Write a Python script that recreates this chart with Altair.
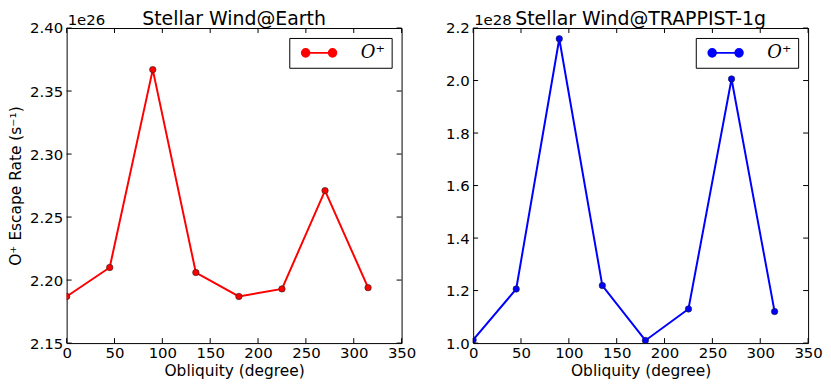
import altair as alt
import pandas as pd

# ---- data ----
obliquity = [0, 45, 90, 135, 180, 225, 270, 315]
earth_rate = [2.187, 2.210, 2.367, 2.206, 2.187, 2.193, 2.271, 2.194]      # x 1e26 s^-1
trappist_rate = [1.012, 1.206, 2.159, 1.219, 1.010, 1.130, 2.006, 1.120]   # x 1e28 s^-1
x_ticks = [0, 50, 100, 150, 200, 250, 300, 350]
earth_ticks = [2.15, 2.20, 2.25, 2.30, 2.35, 2.40]
trappist_ticks = [1.0, 1.2, 1.4, 1.6, 1.8, 2.0, 2.2]
series_name = "O\u207a"

W, H = 337, 317
FONT = "DejaVu Sans"

# legend symbol: a line with a dot at each end
E, R = 2.5, 0.7
SYMBOL = (
    f"M{-E},0L{E},0"
    f"M{-E+R},0A{R},{R},0,1,1,{-E-R},0A{R},{R},0,1,1,{-E+R},0"
    f"M{E+R},0A{R},{R},0,1,1,{E-R},0A{R},{R},0,1,1,{E+R},0"
)


def panel(values, color, yticks, fmt, title, exp_label, ytitle):
    df = pd.DataFrame({"obliquity": obliquity, "rate": values, "series": series_name})
    xs = alt.Scale(domain=[x_ticks[0], x_ticks[-1]], nice=False, zero=False)
    ys = alt.Scale(domain=[yticks[0], yticks[-1]], nice=False, zero=False)
    xax = alt.Axis(values=x_ticks, title="Obliquity (degree)", format="d")
    yax = alt.Axis(values=yticks, title=ytitle, format=fmt)

    base = alt.Chart(df)
    line = base.mark_line(color=color, strokeWidth=2, clip=True).encode(
        x=alt.X("obliquity:Q", scale=xs, axis=xax),
        y=alt.Y("rate:Q", scale=ys, axis=yax),
    )
    pts = base.mark_point(
        filled=True, size=42, stroke="#222222", strokeWidth=0.6, opacity=1, clip=True
    ).encode(
        x=alt.X("obliquity:Q", scale=xs, axis=xax),
        y=alt.Y("rate:Q", scale=ys, axis=yax),
        color=alt.Color(
            "series:N",
            scale=alt.Scale(range=[color]),
            legend=alt.Legend(
                title=None,
                orient="top-right",
                offset=10,
                strokeColor="black",
                fillColor="white",
                cornerRadius=0,
                padding=6,
                symbolType=SYMBOL,
                symbolSize=117,
                symbolOffset=15,
                symbolStrokeWidth=2,
                symbolFillColor=color,
                symbolStrokeColor=color,
                symbolOpacity=1,
                labelFont="DejaVu Serif",
                labelFontStyle="italic",
                labelFontSize=18,
                labelColor="black",
                labelOffset=33,
            ),
        ),
    )

    xt = alt.Chart(pd.DataFrame({"t": x_ticks}))
    yt = alt.Chart(pd.DataFrame({"t": yticks}))
    tick_style = dict(color="black", strokeWidth=1)
    xb = xt.mark_rule(**tick_style).encode(
        x=alt.X("t:Q", scale=xs, axis=xax), y=alt.value(H), y2=alt.value(H - 5)
    )
    xtop = xt.mark_rule(**tick_style).encode(
        x=alt.X("t:Q", scale=xs, axis=xax), y=alt.value(0), y2=alt.value(5)
    )
    yl = yt.mark_rule(**tick_style).encode(
        y=alt.Y("t:Q", scale=ys, axis=yax), x=alt.value(0), x2=alt.value(5)
    )
    yr = yt.mark_rule(**tick_style).encode(
        y=alt.Y("t:Q", scale=ys, axis=yax), x=alt.value(W), x2=alt.value(W - 5)
    )
    expo = alt.Chart(pd.DataFrame({"s": [exp_label]})).mark_text(
        align="left", baseline="alphabetic", fontSize=15, font=FONT, color="black"
    ).encode(text="s:N", x=alt.value(1), y=alt.value(-3))
    ttl = alt.Chart(pd.DataFrame({"s": [title]})).mark_text(
        align="center", baseline="alphabetic", fontSize=19, font=FONT, color="black"
    ).encode(text="s:N", x=alt.value(W / 2), y=alt.value(-3))

    return alt.layer(line, pts, xb, xtop, yl, yr, expo, ttl).properties(width=W, height=H)


left = panel(earth_rate, "#ff0000", earth_ticks, ".2f", "Stellar Wind@Earth", "1e26",
             "O\u207a Escape Rate (s\u207b\u00b9)")
right = panel(trappist_rate, "#0000ff", trappist_ticks, ".1f", "Stellar Wind@TRAPPIST-1g", "1e28", None)

chart = (
    alt.hconcat(left, right, spacing=28)
    .resolve_scale(color="independent", x="independent", y="independent")
    .configure(padding={"left": 0, "top": 0, "right": 0, "bottom": 0})
    .configure_view(stroke="black", strokeWidth=1)
    .configure_axis(
        domain=False, ticks=False, grid=False, labelFlush=False, labelOverlap=False,
        labelFont=FONT, labelFontSize=15, labelColor="black", labelPadding=4,
        titleFont=FONT, titleFontSize=15.5, titleColor="black", titleFontWeight="normal",
    )
    .configure_axisX(labelPadding=3, titlePadding=3)
    .configure_axisY(titlePadding=6)
)

chart.save("out.html", embed_options={"renderer": "svg", "actions": False})
